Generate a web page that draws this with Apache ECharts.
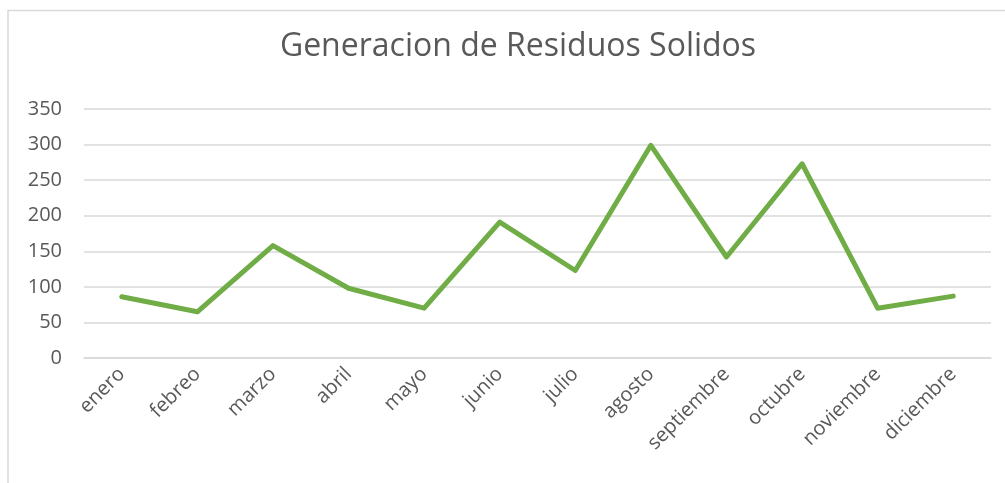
<!DOCTYPE html>
<html>
<head>
<meta charset="utf-8">
<script src="https://cdn.jsdelivr.net/npm/echarts@6/dist/echarts.min.js"></script>
<style>
  html, body { margin: 0; padding: 0; background: #fff; }
  #box { width: 1005px; height: 483px; }
</style>
</head>
<body>
<div id="box"></div>
<script>
const months = ['enero', 'febreo', 'marzo', 'abril', 'mayo', 'junio', 'julio', 'agosto', 'septiembre', 'octubre', 'noviembre', 'diciembre']
const residuos = [86, 65, 158, 98, 70, 191, 123, 299, 142, 273, 70, 87]
const yTicks = [0, 50, 100, 150, 200, 250, 300, 350]

const FONT = '"Open Sans", sans-serif'
const TEXT = '#595959'

const chart = echarts.init(document.getElementById('box'))

chart.setOption({
    animation: false,
    title: {
        text: 'Generacion de Residuos Solidos',
        left: 513,
        top: 26,
        textAlign: 'center',
        textStyle: { fontFamily: FONT, fontSize: 32, fontWeight: 'normal', color: TEXT }
    },
    graphic: [
        {
            type: 'polyline',
            shape: { points: [[8, 483], [8, 10.5], [1005, 10.5]] },
            style: { stroke: '#D9D9D9', lineWidth: 1.5, fill: null }
        }
    ],
    grid: { left: 84, right: 14, top: 109, bottom: 125 },
    xAxis: {
        type: 'category',
        data: months,
        boundaryGap: true,
        axisLine: { lineStyle: { color: '#D9D9D9', width: 1.5 } },
        axisTick: { show: false },
        axisLabel: {
            rotate: 45,
            margin: 13,
            interval: 0,
            fontFamily: FONT,
            fontSize: 20,
            color: TEXT
        }
    },
    yAxis: {
        type: 'value',
        min: yTicks[0],
        max: yTicks[yTicks.length - 1],
        interval: 50,
        axisLine: { show: false },
        axisTick: { show: false },
        splitLine: { lineStyle: { color: '#D9D9D9', width: 1.5 } },
        axisLabel: {
            margin: 22,
            fontFamily: FONT,
            fontSize: 20,
            color: TEXT
        }
    },
    series: [
        {
            type: 'line',
            data: residuos,
            showSymbol: false,
            symbol: 'none',
            lineStyle: { color: '#70AD47', width: 5, cap: 'round', join: 'round' }
        }
    ]
})
</script>
</body>
</html>
